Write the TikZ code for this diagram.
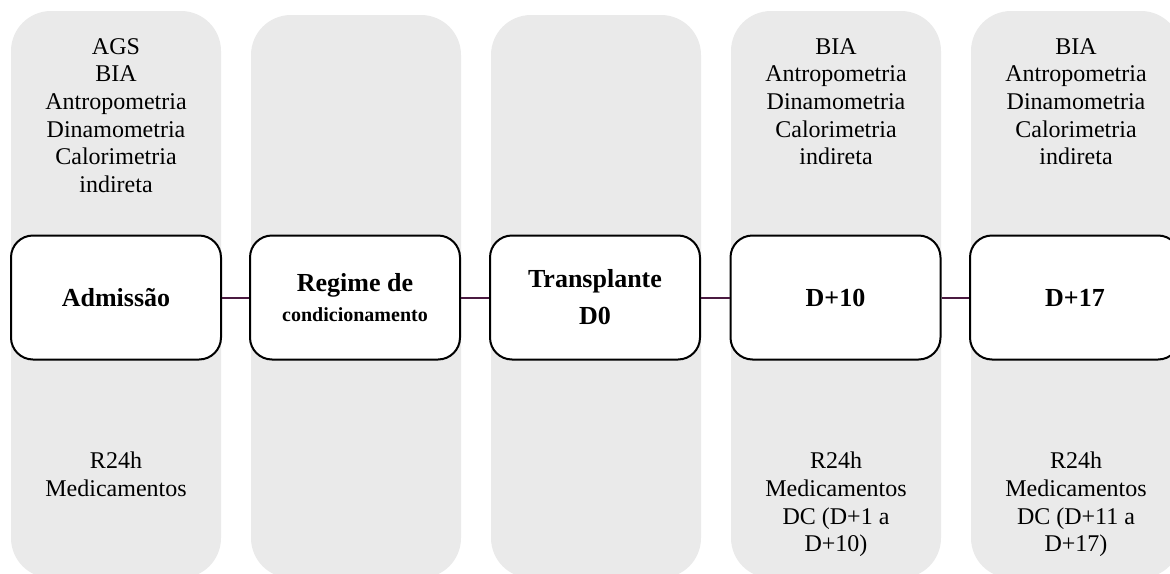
\documentclass[tikz,border=0pt]{standalone}
\usepackage{fontspec}
\setmainfont{Liberation Serif}
\definecolor{colgray}{HTML}{EAEAEA}
\definecolor{connc}{HTML}{4A1A40}
\begin{document}
\begin{tikzpicture}[x=1pt,y=-1pt,
  column/.style={rectangle,fill=colgray,rounded corners=40pt,minimum width=210pt,inner sep=0pt},
  stage/.style={rectangle,draw=black,line width=2pt,fill=white,rounded corners=22pt,minimum width=210pt,minimum height=124pt,inner sep=0pt,align=center,font=\fontsize{26}{32}\selectfont\bfseries},
  info/.style={align=center,inner sep=0pt,anchor=north,font=\fontsize{24}{27.7}\selectfont},
  conn/.style={draw=connc,line width=2pt}]
\useasboundingbox (0,0) rectangle (1170,573);
\clip (0,0) rectangle (1170,573);
% gray columns
\node[column,minimum height=567pt] (col1) at (116,294.5) {};
\node[column,minimum height=563pt] (col2) at (356,296.5) {};
\node[column,minimum height=563pt] (col3) at (596,296.5) {};
\node[column,minimum height=567pt] (col4) at (836,294.5) {};
\node[column,minimum height=567pt] (col5) at (1076,294.5) {};
% stage boxes
\node[stage] (b1) at (116,297.5) {Admissão};
\node[stage] (b2) at (355,297.5) {Regime de\\[-2pt]{\fontsize{20}{24}\selectfont condicionamento}};
\node[stage] (b3) at (595,297.5) {Transplante\\[5pt]D0};
\node[stage] (b4) at (835.5,297.5) {D+10};
\node[stage] (b5) at (1075,297.5) {D+17};
% connectors
\draw[conn] (b1.east) -- (b2.west);
\draw[conn] (b2.east) -- (b3.west);
\draw[conn] (b3.east) -- (b4.west);
\draw[conn] (b4.east) -- (b5.west);
% info texts
\node[info] (t1) at (116,38) {AGS\\BIA\\Antropometria\\Dinamometria\\Calorimetria\\indireta};
\node[info] (t4) at (836,38) {BIA\\Antropometria\\Dinamometria\\Calorimetria\\indireta};
\node[info] (t5) at (1076,38) {BIA\\Antropometria\\Dinamometria\\Calorimetria\\indireta};
\node[info] (u1) at (116,452) {R24h\\Medicamentos};
\node[info] (u4) at (836,452) {R24h\\Medicamentos\\DC (D+1 a\\D+10)};
\node[info] (u5) at (1076,452) {R24h\\Medicamentos\\DC (D+11 a\\D+17)};
\end{tikzpicture}
\end{document}
